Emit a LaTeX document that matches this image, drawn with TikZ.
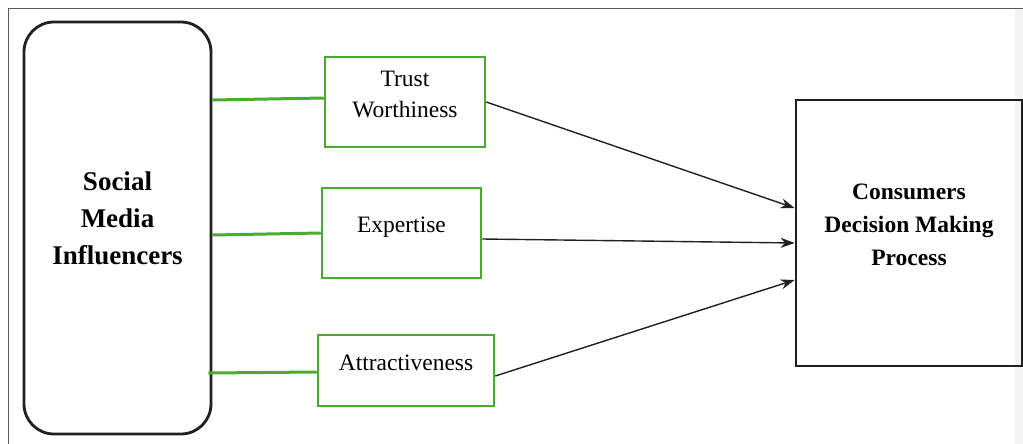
\documentclass[tikz,border=0pt]{standalone}
\usepackage{fontspec}
\setmainfont{Liberation Serif}
\usetikzlibrary{positioning,arrows.meta}
\definecolor{infgreen}{RGB}{76,170,48}
\definecolor{inkblack}{RGB}{35,31,32}
\tikzset{factor/.style={shape=rectangle, draw=infgreen, line width=2.5pt,
  inner sep=0, align=center, font=\fontsize{23.5}{31}\selectfont, text depth=16pt},
  link/.style={draw=infgreen, line width=3pt},
  effect/.style={->, draw=inkblack, line width=1.4pt}}

\begin{document}
\begin{tikzpicture}[x=1pt, y=-1pt, >={Stealth[length=14pt,width=10pt]}]
    \useasboundingbox (0,0) rectangle (1023,444);
    % page frame and grey margin
    \fill [gray!9] (1015,9) rectangle (1023,444);
    \draw [gray!70!black, line width=0.8pt] (8,444) -- (8,8) -- (1023,8);
    % source and target
    \node [draw=inkblack, line width=2.8pt, rounded corners=30pt,
      minimum width=187pt, minimum height=412pt, inner sep=0, align=center,
      font=\bfseries\fontsize{27}{37}\selectfont, text depth=20pt]
      at (117.5,228) (smi) {Social\\Media\\Influencers};
    \node [draw=inkblack, line width=2.8pt, minimum width=226pt,
      minimum height=266pt, inner sep=0, align=center,
      font=\bfseries\fontsize{23.5}{33}\selectfont, text depth=17pt]
      at (909,233) (cdm) {Consumers\\Decision Making\\Process};
    % factors
    \node [factor, minimum width=160pt, minimum height=90pt] at (405,102)
      (trust) {Trust\\Worthiness};
    \node [factor, minimum width=159pt, minimum height=90pt] at (401.5,233)
      (expert) {Expertise};
    \node [factor, minimum width=176pt, minimum height=71pt] at (406,370.5)
      (attract) {Attractiveness};
    % green links
    \draw [link] ([yshift=128pt]smi.east) -- ([yshift=4pt]trust.west);
    \draw [link] ([yshift=-7pt]smi.east) -- (expert.west);
    \draw [link] ([xshift=-4pt, yshift=-145pt]smi.east) -- ([yshift=-1.5pt]attract.west);
    % arrows to decision process
    \draw [effect] (trust.east) -- ([yshift=25pt]cdm.west);
    \draw [effect] ([yshift=-6pt]expert.east) -- ([yshift=-10pt]cdm.west);
    \draw [effect] ([yshift=-5.5pt]attract.east) -- ([yshift=-47pt]cdm.west);
\end{tikzpicture}
\end{document}
